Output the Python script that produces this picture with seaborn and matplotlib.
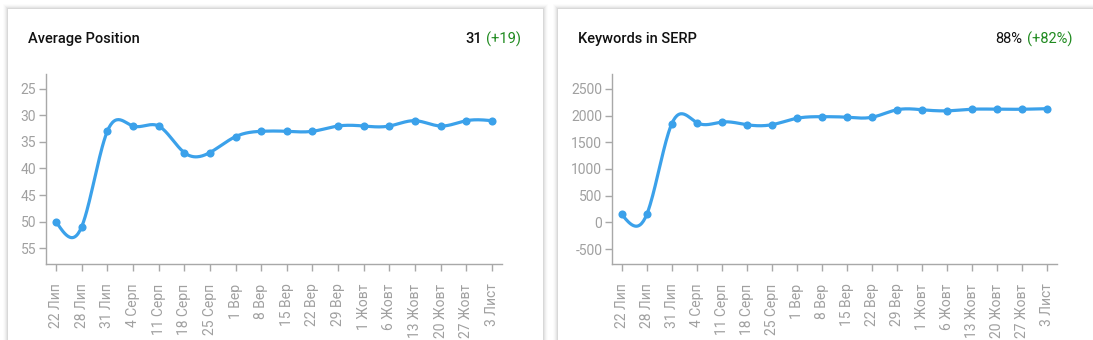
import numpy as np
import matplotlib
matplotlib.use("Agg")
import matplotlib.pyplot as plt
from matplotlib.patches import Rectangle
import seaborn as sns
import pandas as pd

dates = ["22 Лип", "28 Лип", "31 Лип", "4 Серп", "11 Серп", "18 Серп", "25 Серп",
         "1 Вер", "8 Вер", "15 Вер", "22 Вер", "29 Вер", "1 Жовт", "6 Жовт",
         "13 Жовт", "20 Жовт", "27 Жовт", "3 Лист"]
avg_position = [50, 51, 33, 32, 32, 37, 37, 34, 33, 33, 33, 32, 32, 32, 31, 32, 31, 31]
keywords_serp = [150, 150, 1850, 1870, 1880, 1830, 1830, 1950, 1980, 1970, 1970,
                 2110, 2110, 2090, 2120, 2120, 2120, 2130]
pos_ticks = [25, 30, 35, 40, 45, 50, 55]
kw_ticks = [-500, 0, 500, 1000, 1500, 2000, 2500]

sns.set_theme(style="white")
plt.rcParams['font.family'] = ['Roboto', 'DejaVu Sans']

W, H = 1093, 340
fig = plt.figure(figsize=(W / 100, H / 100), dpi=100)
fig.patch.set_facecolor("white")

LINE = "#3ba1ea"
GRAY = "#a8a8a8"


def px_rect(x0, y0, x1, y1):
    return [x0 / W, 1 - y1 / H, (x1 - x0) / W, (y1 - y0) / H]


def card(x0, y0, x1, y1):
    for i, a in enumerate([0.05, 0.04, 0.03, 0.02, 0.012]):
        d = i + 1
        fig.patches.append(Rectangle(((x0 - d) / W, 1 - (y1 + d) / H), (x1 - x0 + 2 * d) / W,
                                     (y1 - y0 + 2 * d) / H, transform=fig.transFigure,
                                     facecolor="black", alpha=a, edgecolor="none", zorder=0))
    fig.patches.append(Rectangle((x0 / W, 1 - y1 / H), (x1 - x0) / W, (y1 - y0) / H,
                                 transform=fig.transFigure, facecolor="white",
                                 edgecolor="none", zorder=1))


def natural_spline(y, n=30):
    y = np.asarray(y, float)
    N = len(y)
    x = np.arange(N, dtype=float)
    A = np.zeros((N, N))
    b = np.zeros(N)
    A[0, 0] = A[-1, -1] = 1
    for i in range(1, N - 1):
        A[i, i - 1], A[i, i], A[i, i + 1] = 1, 4, 1
        b[i] = 6 * (y[i + 1] - 2 * y[i] + y[i - 1])
    M = np.linalg.solve(A, b)
    xs, ys = [], []
    for i in range(N - 1):
        t = np.linspace(0, 1, n, endpoint=False)
        yy = ((1 - t) * y[i] + t * y[i + 1]
              + ((1 - t) ** 3 - (1 - t)) * M[i] / 6 + (t ** 3 - t) * M[i + 1] / 6)
        xs.append(x[i] + t)
        ys.append(yy)
    xs.append([x[-1]])
    ys.append([y[-1]])
    return np.concatenate(xs), np.concatenate(ys)


def panel(ax, values, ticks, ylim, invert):
    idx = np.arange(len(dates))
    sx, sy = natural_spline(values)
    sns.lineplot(x=sx, y=sy, ax=ax, color=LINE, linewidth=2.3, sort=False, zorder=3)
    df = pd.DataFrame({"i": idx, "v": values})
    sns.scatterplot(data=df, x="i", y="v", ax=ax, color=LINE, s=34, edgecolor=LINE,
                    linewidth=0, zorder=4)
    ax.set_xlim(-0.39, len(dates) - 1 + 0.39)
    if invert:
        ax.set_ylim(ylim[1], ylim[0])
    else:
        ax.set_ylim(*ylim)
    ax.set_yticks(ticks)
    ax.set_yticklabels([str(t) for t in ticks])
    ax.set_xticks(idx)
    ax.set_xticklabels(dates, rotation=90)
    ax.set_xlabel("")
    ax.set_ylabel("")
    ax.set_facecolor("none")
    for s in ["top", "right"]:
        ax.spines[s].set_visible(False)
    for s in ["left", "bottom"]:
        ax.spines[s].set_color(GRAY)
        ax.spines[s].set_linewidth(1.0)
    ax.tick_params(axis="both", colors=GRAY, labelcolor="#a0a0a0", labelsize=10,
                   length=5, width=1, direction="out",
                   bottom=True, left=True)
    ax.tick_params(axis="x", pad=9)
    ax.tick_params(axis="y", pad=2)
    ax.grid(False)


card(8, 9, 543, 360)
card(558, 9, 1110, 360)

ax1 = fig.add_axes(px_rect(46, 74, 502, 264), zorder=2)
panel(ax1, avg_position, pos_ticks, (22.2, 58.0), True)

ax2 = fig.add_axes(px_rect(612, 74, 1057, 264), zorder=2)
panel(ax2, keywords_serp, kw_ticks, (-780, 2780), False)

tfs = 10.5
fig.text(28 / W, 1 - 39 / H, "Average Position", fontsize=tfs, fontweight="medium",
         color="#111111", va="center", ha="left", zorder=5)
fig.text(578 / W, 1 - 39 / H, "Keywords in SERP", fontsize=tfs, fontweight="medium",
         color="#111111", va="center", ha="left", zorder=5)

g1 = fig.text(521 / W, 1 - 39 / H, "(+19)", fontsize=tfs, color="#1f8a1f",
              va="center", ha="right", zorder=5)
fig.canvas.draw()
bb = g1.get_window_extent()
fig.text((bb.x0 - 4) / W, 1 - 39 / H, "31", fontsize=tfs, fontweight="medium",
         color="#111111", va="center", ha="right", zorder=5)

g2 = fig.text(1072 / W, 1 - 39 / H, "(+82%)", fontsize=tfs, color="#1f8a1f",
              va="center", ha="right", zorder=5)
fig.canvas.draw()
bb = g2.get_window_extent()
fig.text((bb.x0 - 4) / W, 1 - 39 / H, "88%", fontsize=tfs,
         color="#111111", va="center", ha="right", zorder=5)

fig.savefig("out.png", dpi=100, facecolor="white")
